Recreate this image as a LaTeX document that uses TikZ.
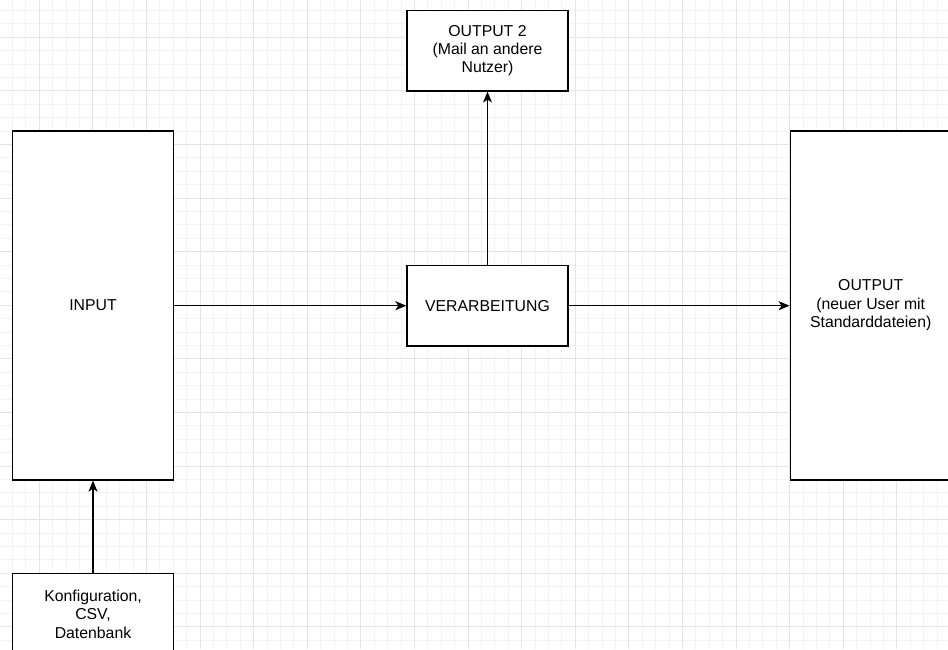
\documentclass[tikz,border=0pt]{standalone}
\usepackage{fontspec}
\setmainfont{Liberation Sans}
\usetikzlibrary{arrows.meta}
\definecolor{gridminor}{HTML}{F3F3F3}
\definecolor{gridmajor}{HTML}{E4E4E4}
\begin{document}
\begin{tikzpicture}[x=1pt,y=-1pt,
  box/.style={draw=black, fill=white, line width=1.3pt, inner sep=0pt, align=center,
    font=\fontsize{15.8}{18.4}\selectfont, minimum width=161pt, minimum height=80.5pt},
  tall/.style={minimum height=349pt},
  conn/.style={line width=1.3pt, -{Stealth[length=11pt,width=9pt,inset=3pt]}}]
\useasboundingbox (0,0) rectangle (948,649);
\fill[white] (0,0) rectangle (948,649);
\begin{scope}
\clip (0,0) rectangle (948,649);
\foreach \k in {0,...,71} {\pgfmathsetmacro\xx{-0.9+13.4*\k}\draw[gridminor, line width=1pt] (\xx,0) -- (\xx,649);}
\foreach \k in {0,...,49} {\pgfmathsetmacro\yy{-2.9+13.4*\k}\draw[gridminor, line width=1pt] (0,\yy) -- (948,\yy);}
\foreach \k in {0,...,18} {\pgfmathsetmacro\xx{-14.3+53.6*\k}\draw[gridmajor, line width=1pt] (\xx,0) -- (\xx,649);}
\foreach \k in {0,...,13} {\pgfmathsetmacro\yy{-16.3+53.6*\k}\draw[gridmajor, line width=1pt] (0,\yy) -- (948,\yy);}
\end{scope}
\node[box, tall] (input) at (93,305.5) {INPUT};
\node[box] (proc) at (487.5,305.7) {VERARBEITUNG};
\node[box] (out2) at (487.5,50.7) {OUTPUT 2\\(Mail an andere\\Nutzer)};
\node[box, tall] (out) at (870.7,305.5) {OUTPUT\\(neuer User mit\\Standarddateien)};
\node[box] (cfg) at (93,614) {Konfiguration,\\CSV,\\Datenbank};
\draw[conn] (input.east |- proc.west) -- (proc.west);
\draw[conn] (proc.east) -- (proc.east -| out.west);
\draw[conn] (proc.north) -- (out2.south);
\draw[conn] (cfg.north) -- (input.south);
\end{tikzpicture}
\end{document}
